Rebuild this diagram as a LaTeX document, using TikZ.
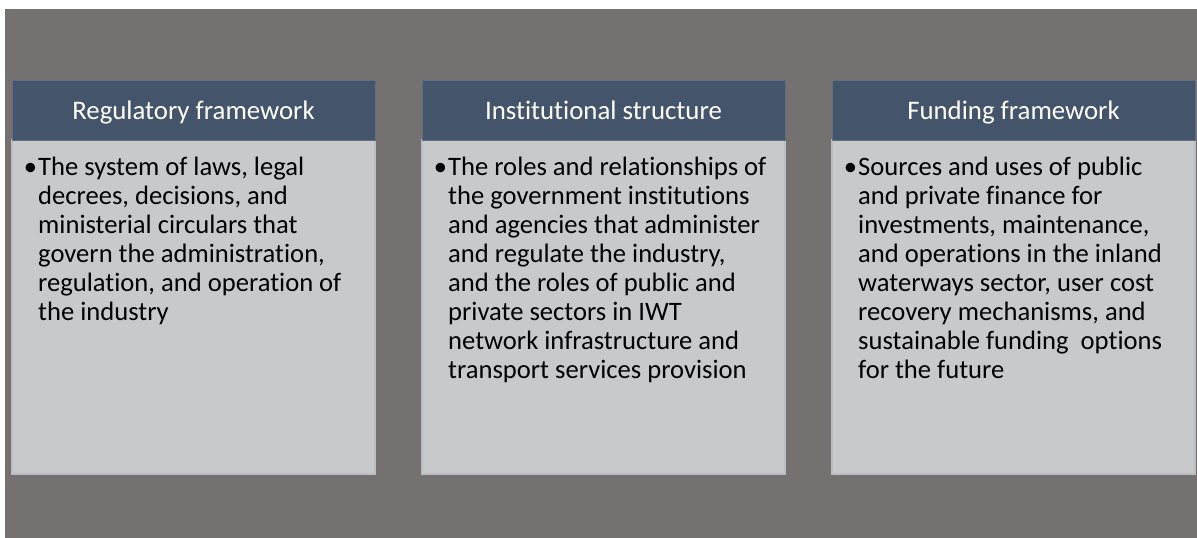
\documentclass[tikz,border=0pt]{standalone}
\usepackage{fontspec}
\setmainfont{Carlito}[Ligatures={NoCommon,NoRequired,NoContextual}]
\usetikzlibrary{calc}
\definecolor{bgc}{HTML}{767171}
\definecolor{hdrc}{HTML}{44546A}
\definecolor{bodyc}{HTML}{C8C9CB}
\definecolor{bodyline}{HTML}{BDBEC1}
\begin{document}
\begin{tikzpicture}[x=1pt,y=-1pt,
  hdrbox/.style={fill=hdrc, draw=hdrc!85!white, line width=0.8pt, minimum width=363pt, minimum height=60pt, anchor=north west, inner sep=0pt, outer sep=0pt},
  bodybox/.style={fill=bodyc, draw=bodyline, line width=1.4pt, minimum width=363pt, minimum height=334pt, anchor=north west, inner sep=0pt, outer sep=0pt},
  hdrtext/.style={text=white, font=\fontsize{26.8}{31}\selectfont, anchor=base, inner sep=0pt},
  bodytext/.style={text=black, font=\fontsize{26.6}{29}\selectfont, align=left, anchor=north west, inner sep=0pt}]
\fill[white] (0,0) rectangle (1197,538);
\useasboundingbox (0,0) rectangle (1197,538);
\fill[bgc] (5,9) rectangle (1197,538);

% column 1
\node[bodybox] (b1) at (12,140) {};
\node[hdrbox] (h1) at (12,80) {};
\node[hdrtext] (h1t) at ($(h1.north)+(0,39)$) {Regulatory framework};
\node[bodytext] (t1) at ($(b1.north west)+(26,13)$) {\rule{0pt}{22pt}\llap{•\hspace{1pt}}The system of laws, legal\\
decrees, decisions, and\\
ministerial circulars that\\
govern the administration,\\
regulation, and operation of\\
the industry};

% column 2
\node[bodybox] (b2) at (422,140) {};
\node[hdrbox] (h2) at (422,80) {};
\node[hdrtext] (h2t) at ($(h2.north)+(0,39)$) {Institutional structure};
\node[bodytext] (t2) at ($(b2.north west)+(26,13)$) {\rule{0pt}{22pt}\llap{•\hspace{1pt}}The roles and relationships of\\
the government institutions\\
and agencies that administer\\
and regulate the industry,\\
and the roles of public and\\
private sectors in IWT\\
network infrastructure and\\
transport services provision};

% column 3
\node[bodybox] (b3) at (832,140) {};
\node[hdrbox] (h3) at (832,80) {};
\node[hdrtext] (h3t) at ($(h3.north)+(0,39)$) {Funding framework};
\node[bodytext] (t3) at ($(b3.north west)+(26,13)$) {\rule{0pt}{22pt}\llap{•\hspace{1pt}}Sources and uses of public\\
and private finance for\\
investments, maintenance,\\
and operations in the inland\\
waterways sector, user cost\\
recovery mechanisms, and\\
sustainable funding\ \ options\\
for the future};
\end{tikzpicture}
\end{document}
